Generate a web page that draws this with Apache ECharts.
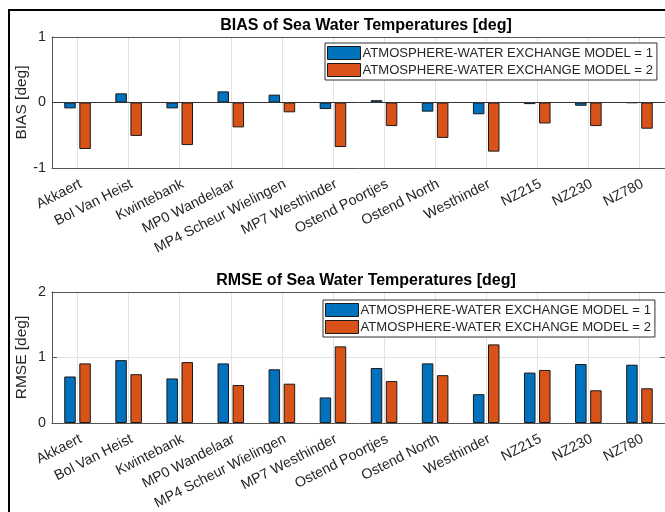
<!DOCTYPE html>
<html>
<head>
<meta charset="utf-8">
<script src="https://cdn.jsdelivr.net/npm/echarts@6/dist/echarts.min.js"></script>
<style>
  html, body { margin: 0; padding: 0; background: #ffffff; overflow: hidden; }
  #frame { position: absolute; left: 8px; top: 9px; width: 720px; height: 600px; border: 2px solid #000; box-sizing: border-box; }
  #chart { position: absolute; left: 0; top: 0; width: 665px; height: 512px; }
</style>
</head>
<body>
<div id="frame"></div>
<div id="chart"></div>
<script>
const categories = ['Akkaert', 'Bol Van Heist', 'Kwintebank', 'MP0 Wandelaar', 'MP4 Scheur Wielingen',
  'MP7 Westhinder', 'Ostend Poortjes', 'Ostend North', 'Westhinder', 'NZ215', 'NZ230', 'NZ780'];
const seriesNames = ['ATMOSPHERE-WATER EXCHANGE MODEL = 1', 'ATMOSPHERE-WATER EXCHANGE MODEL = 2'];
const biasModel1 = [-0.09, 0.14, -0.09, 0.17, 0.12, -0.10, 0.035, -0.14, -0.18, -0.025, -0.05, -0.005];
const biasModel2 = [-0.71, -0.51, -0.65, -0.38, -0.15, -0.68, -0.36, -0.54, -0.75, -0.32, -0.36, -0.40];
const rmseModel1 = [0.71, 0.96, 0.68, 0.91, 0.82, 0.39, 0.84, 0.91, 0.44, 0.77, 0.90, 0.89];
const rmseModel2 = [0.91, 0.745, 0.93, 0.58, 0.60, 1.17, 0.64, 0.73, 1.20, 0.81, 0.50, 0.53];
const titles = ['BIAS of Sea Water Temperatures [deg]', 'RMSE of Sea Water Temperatures [deg]'];
const yNames = ['BIAS [deg]', 'RMSE [deg]'];
const yRanges = [[-1, 1], [0, 2]];

const FONT = "'Liberation Sans', Arial, Helvetica, sans-serif";
const BLUE = '#0072BD';
const ORANGE = '#D95319';
const AXIS = '#555555';
const GRIDC = '#e3e3e3';
const TXT = '#262626';

const gridTops = [37, 292];
const gridH = 131;
const legendPos = [[325, 43], [323, 300]];

const chart = echarts.init(document.getElementById('chart'), null, { renderer: 'canvas' });

const grids = gridTops.map(t => ({ left: 52, top: t, width: 618, height: gridH, containLabel: false }));

const xAxes = [];
const yAxes = [];
[0, 1].forEach(g => {
  xAxes.push({
    type: 'category', gridIndex: g, data: categories, position: 'bottom', boundaryGap: true,
    axisLine: { onZero: false, lineStyle: { color: AXIS, width: 1 } },
    axisTick: { inside: true, length: 5, alignWithLabel: true, lineStyle: { color: AXIS } },
    axisLabel: { rotate: 27, fontSize: 14.3, color: TXT, fontFamily: FONT, margin: 9, interval: 0,
                 align: 'right', verticalAlign: 'top' },
    splitLine: { show: true, alignWithLabel: true, lineStyle: { color: GRIDC, width: 1 } }
  });
  xAxes.push({
    type: 'category', gridIndex: g, data: categories, position: 'top', boundaryGap: true,
    axisLine: { onZero: false, lineStyle: { color: AXIS, width: 1 } },
    axisTick: { inside: true, length: 5, alignWithLabel: true, lineStyle: { color: AXIS } },
    axisLabel: { show: false }, splitLine: { show: false }
  });
  yAxes.push({
    type: 'value', gridIndex: g, min: yRanges[g][0], max: yRanges[g][1], interval: 1, position: 'left',
    name: yNames[g], nameLocation: 'middle', nameGap: 22, nameMoveOverlap: false,
    nameTextStyle: { fontSize: 15.5, color: TXT, fontFamily: FONT },
    axisLine: { show: true, lineStyle: { color: AXIS, width: 1 } },
    axisTick: { show: true, inside: true, length: 5, lineStyle: { color: AXIS } },
    axisLabel: { fontSize: 14.3, color: TXT, fontFamily: FONT, margin: 6 },
    splitLine: { show: true, lineStyle: { color: GRIDC, width: 1 } }
  });
  yAxes.push({
    type: 'value', gridIndex: g, min: yRanges[g][0], max: yRanges[g][1], interval: 1, position: 'right',
    axisLine: { show: true, lineStyle: { color: AXIS, width: 1 } },
    axisTick: { show: true, inside: true, length: 5, lineStyle: { color: AXIS } },
    axisLabel: { show: false }, splitLine: { show: false }
  });
});

function barSeries(name, data, g, color, withZero) {
  const s = {
    type: 'bar', name: name, data: data, xAxisIndex: g * 2, yAxisIndex: g * 2,
    barWidth: 11.5, barGap: '31%',
    itemStyle: { color: color, borderColor: '#1a1a1a', borderWidth: 1 },
    emphasis: { disabled: true }, animation: false
  };
  if (withZero) {
    s.markLine = {
      silent: true, symbol: ['none', 'none'], label: { show: false },
      lineStyle: { color: '#333333', width: 1, type: 'solid' },
      data: [{ yAxis: 0 }], animation: false
    };
  }
  return s;
}

const series = [
  barSeries(seriesNames[0], biasModel1, 0, BLUE, true),
  barSeries(seriesNames[1], biasModel2, 0, ORANGE, false),
  barSeries(seriesNames[0], rmseModel1, 1, BLUE, false),
  barSeries(seriesNames[1], rmseModel2, 1, ORANGE, false)
];

const legends = legendPos.map(p => ({
  left: p[0], top: p[1], orient: 'vertical', data: seriesNames,
  itemWidth: 33, itemHeight: 13, itemGap: 3, icon: 'rect',
  padding: [3, 4, 3, 2], backgroundColor: '#ffffff', borderColor: '#333333', borderWidth: 1,
  textStyle: { fontSize: 13.1, color: TXT, fontFamily: FONT, padding: [0, 0, 0, -3] },
  itemStyle: { borderColor: '#1a1a1a', borderWidth: 1 },
  selectedMode: false
}));

const titleOpts = titles.map((t, i) => ({
  text: t, left: 361, top: gridTops[i] - 24, textAlign: 'center',
  textStyle: { fontSize: 16, fontWeight: 'bold', color: '#000000', fontFamily: FONT }
}));

chart.setOption({
  backgroundColor: 'transparent',
  animation: false,
  title: titleOpts,
  legend: legends,
  grid: grids,
  xAxis: xAxes,
  yAxis: yAxes,
  series: series
});
</script>
</body>
</html>
